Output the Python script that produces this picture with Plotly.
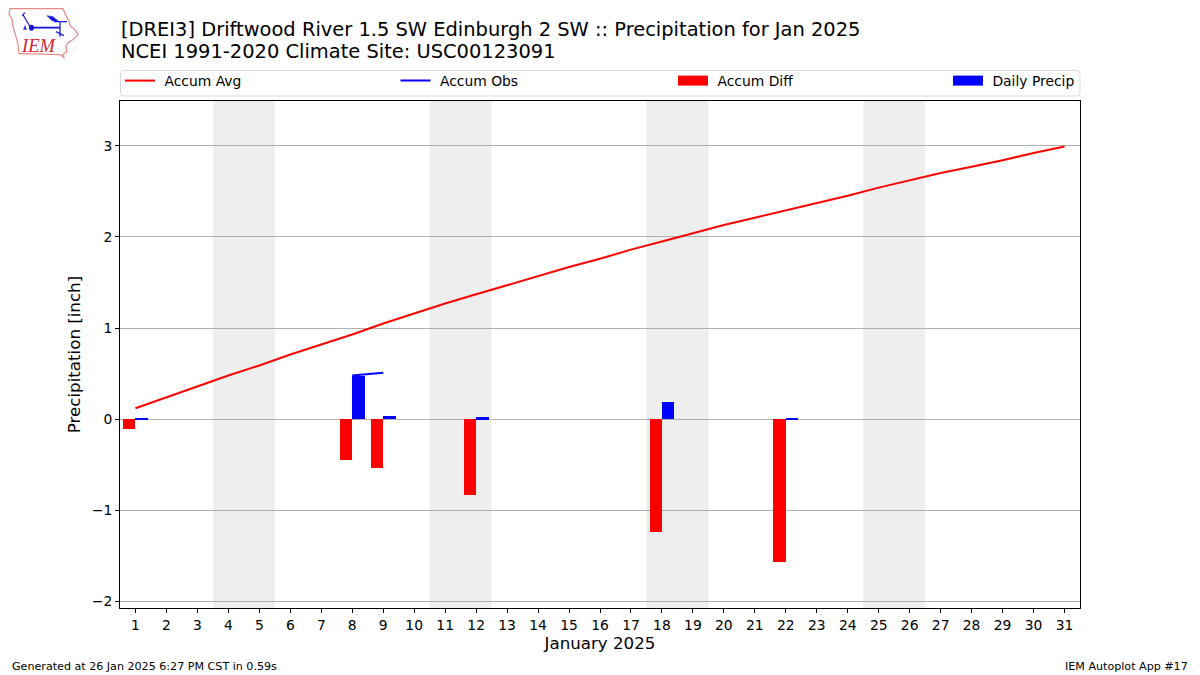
import plotly.graph_objects as go

days = list(range(1, 32))
accum_avg = [0.12, 0.24, 0.36, 0.48, 0.59, 0.71, 0.82, 0.93, 1.05, 1.16, 1.27, 1.37, 1.47, 1.57, 1.67, 1.76,
             1.86, 1.95, 2.04, 2.13, 2.21, 2.29, 2.37, 2.45, 2.54, 2.62, 2.70, 2.77, 2.84, 2.92, 2.99]
obs_days = [8, 9]
accum_obs = [0.48, 0.51]
diff_days = [1, 8, 9, 12, 18, 22]
accum_diff = [-0.11, -0.45, -0.54, -0.83, -1.24, -1.57]
precip_days = [1, 8, 9, 12, 18, 22]
daily_precip = [0.01, 0.47, 0.035, 0.02, 0.19, 0.01]
weekend_bands = [(3.5, 5.5), (10.5, 12.5), (17.5, 19.5), (24.5, 26.5)]

FONT = "DejaVu Sans"
W, H = 1200, 675
L, R, T, B = 120, 1080, 100.5, 608.5

def px(x):
    return (x - L) / (R - L)
def py(y):
    return (B - y) / (B - T)
def path(pts, close=True):
    s = "M" + " L".join(f"{px(a):.5f},{py(b):.5f}" for a, b in pts)
    return s + (" Z" if close else "")

fig = go.Figure()
fig.add_trace(go.Bar(x=diff_days, y=accum_diff, width=0.4, offset=-0.4, marker=dict(color="#ff0000", line_width=0), showlegend=False))
fig.add_trace(go.Bar(x=precip_days, y=daily_precip, width=0.4, offset=0, marker=dict(color="#0000ff", line_width=0), showlegend=False))
fig.add_trace(go.Scatter(x=days, y=accum_avg, mode="lines", name="\u00a0Accum Avg", line=dict(color="#ff0000", width=2), legend="legend"))
fig.add_trace(go.Scatter(x=obs_days, y=accum_obs, mode="lines", name="\u00a0Accum Obs", line=dict(color="#0000ff", width=2), legend="legend2"))
fig.add_trace(go.Scatter(x=[None], y=[None], mode="lines", name="\u00a0Accum Diff", line=dict(color="#ff0000", width=10), legend="legend3"))
fig.add_trace(go.Scatter(x=[None], y=[None], mode="lines", name="\u00a0Daily Precip", line=dict(color="#0000ff", width=10), legend="legend4"))

shapes = []
for a, b in weekend_bands:
    shapes.append(dict(type="rect", xref="x", yref="paper", x0=a, x1=b, y0=0, y1=1, fillcolor="#eeeeee", line_width=0, layer="below"))

# rounded legend frame
x0, x1, y0, y1, r = 120.5, 1080, 70, 95.5, 3
frame = (f"M{px(x0+r):.5f},{py(y0):.5f} L{px(x1-r):.5f},{py(y0):.5f} Q{px(x1):.5f},{py(y0):.5f} {px(x1):.5f},{py(y0+r):.5f} "
         f"L{px(x1):.5f},{py(y1-r):.5f} Q{px(x1):.5f},{py(y1):.5f} {px(x1-r):.5f},{py(y1):.5f} "
         f"L{px(x0+r):.5f},{py(y1):.5f} Q{px(x0):.5f},{py(y1):.5f} {px(x0):.5f},{py(y1-r):.5f} "
         f"L{px(x0):.5f},{py(y0+r):.5f} Q{px(x0):.5f},{py(y0):.5f} {px(x0+r):.5f},{py(y0):.5f} Z")
shapes.append(dict(type="path", xref="paper", yref="paper", path=frame, line=dict(color="#d9d9d9", width=1), fillcolor="rgba(0,0,0,0)"))

# logo: Iowa outline and the station glyph
iowa = [(10, 8), (63, 8), (66, 15), (69, 20), (70, 25), (75, 29), (78, 34), (73, 39), (68, 42), (66, 46), (67, 51),
        (63, 54), (64, 57), (60, 54), (24, 53), (19, 53), (18, 44), (16, 36), (13, 26), (12, 18), (9, 14)]
logo = [dict(pts=iowa, close=True, color="#e58a8a", w=1.2),
        dict(pts=[(30, 27), (60, 27)], close=False, color="#1515d8", w=1.8),
        dict(pts=[(30, 26), (23, 14)], close=False, color="#1515d8", w=1.1),
        dict(pts=[(22, 15), (25, 12)], close=False, color="#1515d8", w=1.1),
        dict(pts=[(60, 21), (60, 36)], close=False, color="#1515d8", w=1.2),
        dict(pts=[(56, 31), (64, 35)], close=False, color="#1515d8", w=1.2),
        dict(pts=[(54, 21), (67, 21)], close=False, color="#1515d8", w=1.2)]
for it in logo:
    shapes.append(dict(type="path", xref="paper", yref="paper", path=path(it["pts"], it["close"]),
                       line=dict(color=it["color"], width=it["w"]), layer="above"))
shapes.append(dict(type="path", xref="paper", yref="paper", path=path([(47, 15), (53, 16), (59, 21), (52, 20)]),
                   fillcolor="#1515d8", line=dict(color="#1515d8", width=0.5)))
shapes.append(dict(type="circle", xref="paper", yref="paper", x0=px(29), x1=px(34), y0=py(30), y1=py(24),
                   fillcolor="#1515d8", line_width=0))
shapes.append(dict(type="path", xref="paper", yref="paper", path=path([(25, 24), (27, 29), (23, 29)]),
                   fillcolor="#3a3ad8", line_width=0))

annotations = [
    dict(text="<i>IEM</i>", x=px(18.5), y=py(45), xref="paper", yref="paper", xanchor="left", yanchor="middle", showarrow=False,
         font=dict(family="Liberation Serif", size=18.5, color="#d8242c")),
    dict(text="[DREI3] Driftwood River 1.5 SW Edinburgh 2 SW :: Precipitation for Jan 2025", x=px(118.5), y=py(29), xref="paper", yref="paper",
         xanchor="left", yanchor="middle", showarrow=False, font=dict(family=FONT, size=19.44, color="black")),
    dict(text="NCEI 1991-2020 Climate Site: USC00123091", x=px(118.5), y=py(51), xref="paper", yref="paper",
         xanchor="left", yanchor="middle", showarrow=False, font=dict(family=FONT, size=19.44, color="black")),
    dict(text="Generated at 26 Jan 2025 6:27 PM CST in 0.59s", x=px(10), y=py(667.5), xref="paper", yref="paper",
         xanchor="left", yanchor="middle", showarrow=False, font=dict(family=FONT, size=11.11, color="black")),
    dict(text="IEM Autoplot App #17", x=px(1190), y=py(667.5), xref="paper", yref="paper",
         xanchor="right", yanchor="middle", showarrow=False, font=dict(family=FONT, size=11.11, color="black")),
]

def legend_at(x):
    return dict(orientation="h", x=px(x), y=py(64.5), xanchor="left", yanchor="top",
                bgcolor="rgba(0,0,0,0)", borderwidth=0,
                font=dict(family=FONT, size=13.89, color="black"), itemsizing="trace")

fig.update_layout(
    width=W, height=H, autosize=False,
    margin=dict(l=L, r=W - R, t=T, b=H - B, pad=0, autoexpand=False),
    paper_bgcolor="white", plot_bgcolor="white",
    barmode="overlay", bargap=0,
    font=dict(family=FONT, size=13.89, color="black"),
    shapes=shapes, annotations=annotations,
    legend=legend_at(120), legend2=legend_at(395.5), legend3=legend_at(673), legend4=legend_at(948),
    xaxis=dict(range=[0.5, 31.5], tickmode="array", tickvals=days, ticktext=[str(d) for d in days],
               showgrid=False, zeroline=False, showline=True, linecolor="black", linewidth=1, mirror=True,
               ticks="outside", ticklen=4, tickwidth=1, tickcolor="black", tickangle=0,
               tickfont=dict(family=FONT, size=13.89, color="black"),
               title=dict(text="January 2025", font=dict(family=FONT, size=16.67, color="black"), standoff=5)),
    yaxis=dict(range=[-2.07, 3.49], tickmode="array", tickvals=[-2, -1, 0, 1, 2, 3],
               ticktext=["\u22122", "\u22121", "0", "1", "2", "3"],
               showgrid=True, gridcolor="#b0b0b0", gridwidth=1, zeroline=False, showline=True, linecolor="black",
               linewidth=1, mirror=True, ticks="outside", ticklen=4, tickwidth=1, tickcolor="black",
               tickfont=dict(family=FONT, size=13.89, color="black"),
               title=dict(text="Precipitation [inch]", font=dict(family=FONT, size=16.67, color="black"), standoff=6)),
)

fig.write_html("out.html", config={"displayModeBar": False}, post_script="document.body.style.margin='0';")
